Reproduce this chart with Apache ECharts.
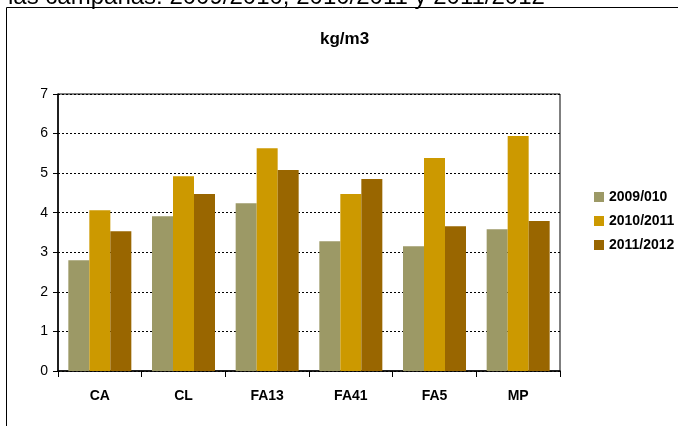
<!DOCTYPE html>
<html>
<head>
<meta charset="utf-8">
<title>kg/m3</title>
<script src="https://cdn.jsdelivr.net/npm/echarts@6/dist/echarts.min.js"></script>
<style>
  html, body { margin: 0; padding: 0; background: #fff; }
  #chart { width: 678px; height: 426px; }
</style>
</head>
<body>
<div id="chart"></div>
<script>
  // 数据
  var categories = ['CA', 'CL', 'FA13', 'FA41', 'FA5', 'MP'];
  var seriesNames = ['2009/010', '2010/2011', '2011/2012'];
  var values0910 = [2.80, 3.91, 4.24, 3.28, 3.15, 3.58];
  var values1011 = [4.06, 4.92, 5.63, 4.47, 5.38, 5.94];
  var values1112 = [3.53, 4.47, 5.08, 4.85, 3.66, 3.79];
  var yTicks = [0, 1, 2, 3, 4, 5, 6, 7];

  var colors = ['#9c9966', '#cc9900', '#996600'];
  var font = 'Liberation Sans, Arial, sans-serif';

  var chart = echarts.init(document.getElementById('chart'));

  function barSeries(name, data, color) {
    return {
      name: name,
      type: 'bar',
      barWidth: 21,
      barGap: '0%',
      itemStyle: { color: color },
      data: data
    };
  }

  chart.setOption({
    animation: false,
    textStyle: { fontFamily: font },
    title: {
      text: 'kg/m3',
      left: 320,
      top: 31,
      padding: 0,
      textStyle: { fontSize: 17, fontWeight: 'bold', color: '#000', fontFamily: font }
    },
    legend: {
      orient: 'vertical',
      left: 594,
      top: 190,
      padding: 0,
      itemWidth: 10,
      itemHeight: 10,
      itemGap: 10,
      icon: 'rect',
      textStyle: { fontSize: 14, fontWeight: 'bold', color: '#000', fontFamily: font },
      data: seriesNames
    },
    graphic: [
      {
        type: 'rect',
        shape: { x: 6.5, y: 7.5, width: 700, height: 450 },
        style: { fill: 'none', stroke: '#000', lineWidth: 1 },
        silent: true
      },
      {
        // 上方被裁掉的正文
        type: 'text',
        x: 8,
        y: -15,
        style: {
          text: 'las campañas: 2009/2010, 2010/2011 y 2011/2012',
          font: '24px ' + font,
          fill: '#000'
        },
        silent: true
      }
    ],
    grid: {
      left: 58,
      right: 118,
      top: 94,
      bottom: 55,
      show: true,
      borderColor: '#000',
      borderWidth: 1
    },
    xAxis: {
      type: 'category',
      data: categories,
      axisLine: { lineStyle: { color: '#000', width: 1.5 } },
      axisTick: { show: true, length: 6, lineStyle: { color: '#000' } },
      axisLabel: { margin: 18, fontSize: 14, fontWeight: 'bold', color: '#000', fontFamily: font }
    },
    yAxis: {
      type: 'value',
      min: yTicks[0],
      max: yTicks[yTicks.length - 1],
      interval: 1,
      axisLine: { show: true, lineStyle: { color: '#000', width: 1.5 } },
      axisTick: { show: true, length: 5, lineStyle: { color: '#000' } },
      axisLabel: { margin: 10, fontSize: 14, color: '#000', fontFamily: font },
      splitLine: { show: true, lineStyle: { color: '#000', type: [2, 2], width: 1 } }
    },
    series: [
      barSeries(seriesNames[0], values0910, colors[0]),
      barSeries(seriesNames[1], values1011, colors[1]),
      barSeries(seriesNames[2], values1112, colors[2])
    ]
  });
</script>
</body>
</html>
